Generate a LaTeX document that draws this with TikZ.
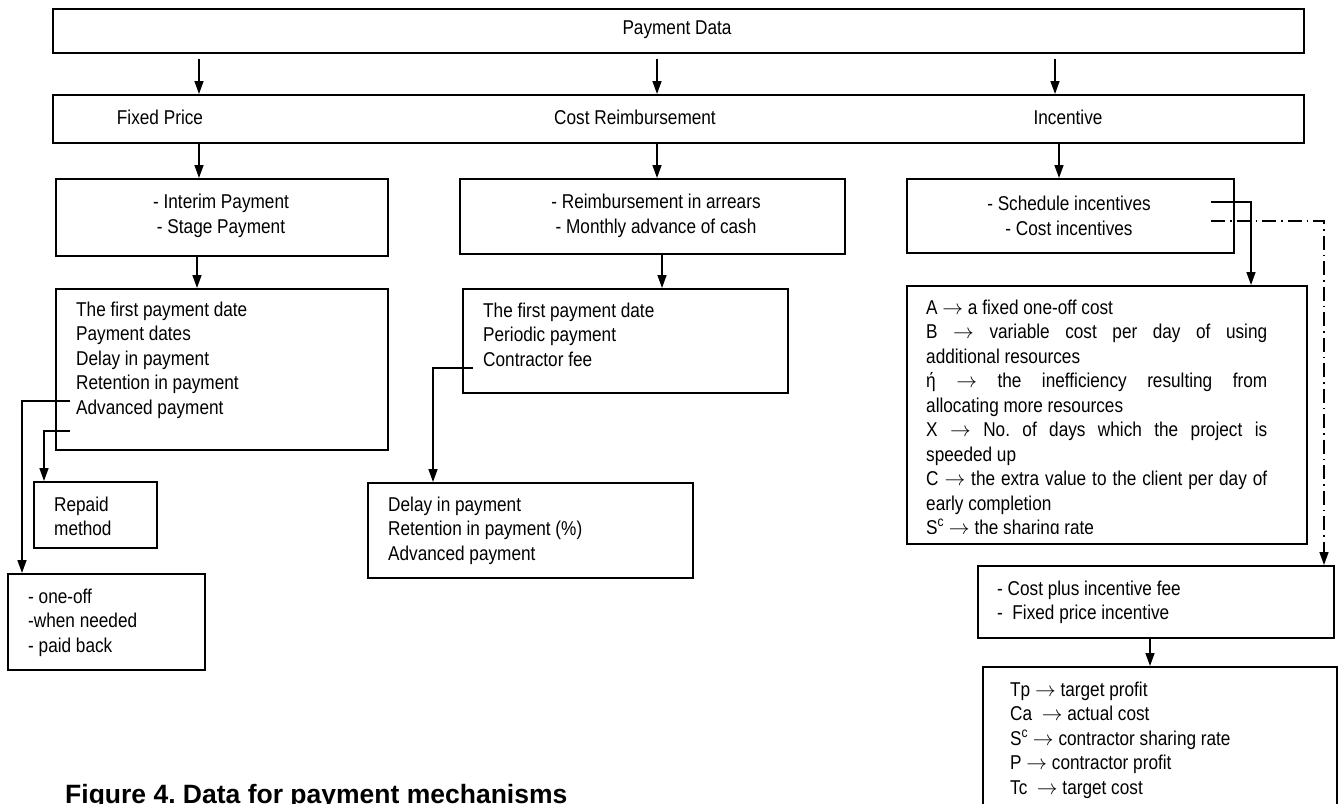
\documentclass[tikz,border=0pt]{standalone}
\usepackage{fontspec}
\setmainfont{Liberation Sans}[FakeStretch=0.86]
\newfontfamily\capfont{Liberation Sans}
\usetikzlibrary{arrows.meta,positioning,calc}
\frenchspacing

\newcommand{\jline}[1]{\makebox[341pt][s]{#1}}

\tikzset{
  box/.style={draw,line width=1.9pt,rectangle,inner sep=0pt,anchor=north west},
  txt/.style={inner sep=0pt,align=left,font=\fontsize{20}{24.5}\selectfont},
  link/.style={line width=1.5pt,-{Triangle[length=13pt,width=9pt]}},
  dashlink/.style={link,dash pattern=on 14pt off 5pt on 1.5pt off 5pt},
}

\begin{document}
\begin{tikzpicture}[x=1pt,y=-1pt]
    \clip (0,0) rectangle (1340,803);

    % Top rows
    \node[box,minimum width=1251pt,minimum height=44pt] (pd) at (52,8) {};
    \node[txt] (pdt) at (677,30) {Payment Data};
    \node[box,minimum width=1251pt,minimum height=48pt] (types) at (52,94) {};
    \node[txt] (fpt) at (160,117) {Fixed Price};
    \node[txt] (crt) at (635,117) {Cost Reimbursement};
    \node[txt] (inct) at (1068,117) {Incentive};
    \foreach \x in {199,657,1055}
        \draw[link] ($(\x,0 |- pd.south)+(0,5)$) -- (\x,0 |- types.north);

    % Payment methods
    \node[box,minimum width=332pt,minimum height=77pt] (fixm) at (55,178) {};
    \node[txt,align=center] (fixmt) at (221,216) {- Interim Payment\\- Stage Payment};
    \node[box,minimum width=385pt,minimum height=75pt] (costm) at (459,178) {};
    \node[txt,align=center] (costmt) at (656,216) {- Reimbursement in arrears\\- Monthly advance of cash};
    \node[box,minimum width=327pt,minimum height=74pt] (incm) at (906,178) {};
    \node[txt,align=center] (incmt) at (1069,216) {- Schedule incentives\\- Cost incentives};
    \draw[link] (199,0 |- types.south) -- (199,0 |- fixm.north);
    \draw[link] (657,0 |- types.south) -- (657,0 |- costm.north);
    \draw[link] (1059,0 |- types.south) -- (1059,0 |- incm.north);

    % Fixed price data
    \node[box,minimum width=332pt,minimum height=161pt] (fixd) at (55,288) {};
    \node[txt,anchor=base west] (fixdt) at (76,414) {The first payment date\\Payment dates\\Delay in payment\\Retention in payment\\Advanced payment};
    \node[box,minimum width=123pt,minimum height=66pt] (repaid) at (33,481) {};
    \node[txt,anchor=base west] (repaidt) at (54,535.5) {Repaid\\method};
    \node[box,minimum width=197pt,minimum height=96pt] (oneoff) at (7,573) {};
    \node[txt,anchor=base west] (oneofft) at (28,652) {- one-off\\-when needed\\- paid back};
    \draw[link] (197,0 |- fixm.south) -- (197,0 |- fixd.north);
    \coordinate (adv1) at (70,401);
    \coordinate (adv2) at (70,431);
    \draw[link] (adv1) -| (22,0 |- oneoff.north);
    \draw[link] (adv2) -| (44,0 |- repaid.north);

    % Cost reimbursement data
    \node[box,minimum width=325pt,minimum height=104pt] (costd) at (462,288) {};
    \node[txt,anchor=base west] (costdt) at (483,366) {The first payment date\\Periodic payment\\Contractor fee};
    \node[box,minimum width=325pt,minimum height=95pt] (costr) at (367,482) {};
    \node[txt,anchor=base west] (costrt) at (388,560) {Delay in payment\\Retention in payment (\%)\\Advanced payment};
    \draw[link] (662,0 |- costm.south) -- (662,0 |- costd.north);
    \coordinate (fee) at (473,368);
    \draw[link] (fee) -| (433,0 |- costr.north);

    % Incentive data
    \node[box,minimum width=400pt,minimum height=258pt] (incd) at (906,285) {};
    \begin{scope}
        \clip (906,285) rectangle (1306,533);
        \node[txt,anchor=base west] (incdt) at (926,534.5) {A $\rightarrow$ a fixed one-off cost\\
            \jline{B $\rightarrow$ variable cost per day of using}\\
            additional resources\\
            \jline{ή $\rightarrow$ the inefficiency resulting from}\\
            allocating more resources\\
            \jline{X $\rightarrow$ No. of days which the project is}\\
            speeded up\\
            \jline{C $\rightarrow$ the extra value to the client per day of}\\
            early completion\\
            S\textsuperscript{c} $\rightarrow$ the sharing rate};
    \end{scope}
    \node[box,minimum width=356pt,minimum height=72pt] (cpb) at (977,565) {};
    \node[txt,anchor=base west] (cpbt) at (997,619.5) {- Cost plus incentive fee\\-\ \ Fixed price incentive};
    \node[box,minimum width=354pt,minimum height=160pt] (form) at (982,666) {};
    \node[txt,anchor=base west] (formt) at (1010,794) {Tp $\rightarrow$ target profit\\Ca\ \ $\rightarrow$ actual cost\\S\textsuperscript{c} $\rightarrow$ contractor sharing rate\\P $\rightarrow$ contractor profit\\Tc\ \ $\rightarrow$ target cost};
    \coordinate (sch) at (1211,202);
    \coordinate (cst) at (1211,221);
    \draw[link] (sch) -| (1251,0 |- incd.north);
    \draw[dashlink] (cst) -| (1324,0 |- cpb.north);
    \draw[link] (1150,0 |- cpb.south) -- (1150,0 |- form.north);

    % Caption
    \node[inner sep=0pt,anchor=base west,font=\capfont\bfseries\fontsize{26.5}{30}\selectfont] (caption) at (65,803) {Figure 4. Data for payment mechanisms};
\end{tikzpicture}
\end{document}
